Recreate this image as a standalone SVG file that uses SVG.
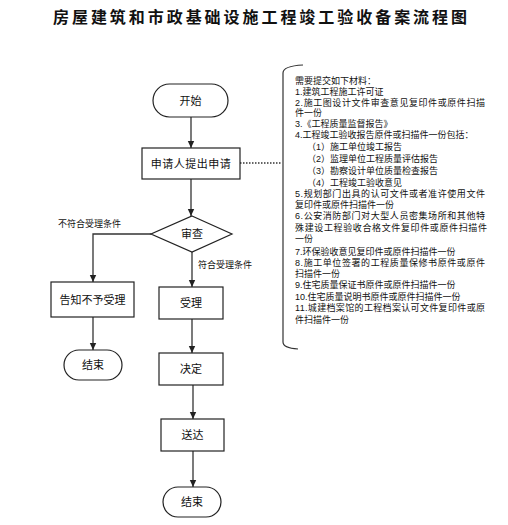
<svg xmlns="http://www.w3.org/2000/svg" width="508" height="525" viewBox="0 0 508 525">
<defs>
<marker id="arr" markerWidth="8" markerHeight="8" refX="7" refY="4" orient="auto" markerUnits="userSpaceOnUse">
<path d="M0,0.8 L7,4 L0,7.2 Z" fill="#222"/>
</marker>
<style>
.shape{fill:#fff;stroke:#222;stroke-width:1.2}
.conn{fill:none;stroke:#333;stroke-width:1.3}
.nt{font-family:"Liberation Sans","Noto Sans CJK SC",sans-serif;font-size:11px;fill:#111;text-anchor:middle;dominant-baseline:central}
.lbl{font-family:"Liberation Sans","Noto Sans CJK SC",sans-serif;font-size:9px;fill:#111}
.it{font-family:"Liberation Sans","Noto Sans CJK SC",sans-serif;font-size:9px;fill:#111;dominant-baseline:central}
</style>
</defs>
<rect width="508" height="525" fill="#fff"/>
<text x="260" y="16" font-family="'Noto Sans CJK SC',sans-serif" font-size="16" font-weight="bold" fill="#111" text-anchor="middle" dominant-baseline="central" textLength="414" lengthAdjust="spacing">房屋建筑和市政基础设施工程竣工验收备案流程图</text>

<g id="connectors">
<line class="conn" x1="191" y1="117" x2="191" y2="148" marker-end="url(#arr)"/>
<line class="conn" x1="191" y1="179" x2="191" y2="216" marker-end="url(#arr)"/>
<polyline class="conn" points="151,234 93,234 93,282" marker-end="url(#arr)"/>
<line class="conn" x1="192" y1="252" x2="192" y2="287" marker-end="url(#arr)"/>
<line class="conn" x1="93" y1="317" x2="93" y2="350" marker-end="url(#arr)"/>
<line class="conn" x1="192" y1="319" x2="192" y2="353" marker-end="url(#arr)"/>
<line class="conn" x1="193" y1="385" x2="193" y2="419" marker-end="url(#arr)"/>
<line class="conn" x1="193" y1="451" x2="193" y2="487" marker-end="url(#arr)"/>
<line x1="240" y1="163" x2="281" y2="163" stroke="#333" stroke-width="1.3" stroke-dasharray="1.5,1.5"/>
<text class="lbl" x="58" y="227">不符合受理条件</text>
<text class="lbl" x="198" y="268">符合受理条件</text>
</g>

<g id="start">
<rect class="shape" x="153" y="84" width="75" height="33" rx="16.5"/>
<text class="nt" x="190.5" y="100.5">开始</text>
</g>
<g id="apply">
<rect class="shape" x="142" y="148" width="98" height="31"/>
<text class="nt" x="191" y="163.5" letter-spacing="0.5">申请人提出申请</text>
</g>
<g id="review">
<polygon class="shape" points="192,216 232,234 192,252 151,234"/>
<text class="nt" x="192" y="234">审查</text>
</g>
<g id="reject">
<rect class="shape" x="51" y="282" width="83" height="35"/>
<text class="nt" x="92.5" y="299.5">告知不予受理</text>
</g>
<g id="end1">
<rect class="shape" x="64" y="350" width="58" height="30" rx="15"/>
<text class="nt" x="93" y="365">结束</text>
</g>
<g id="accept">
<rect class="shape" x="159" y="287" width="64" height="32"/>
<text class="nt" x="191" y="303">受理</text>
</g>
<g id="decide">
<rect class="shape" x="159" y="353" width="64" height="32"/>
<text class="nt" x="191" y="369">决定</text>
</g>
<g id="deliver">
<rect class="shape" x="161" y="419" width="63" height="32"/>
<text class="nt" x="192.5" y="435">送达</text>
</g>
<g id="end2">
<rect class="shape" x="163" y="487" width="58" height="30" rx="15"/>
<text class="nt" x="192" y="502">结束</text>
</g>

<g id="materials">
<path d="M303,65 Q283,66 283,73 L283,342 Q283,348 298,349" fill="none" stroke="#333" stroke-width="1.2"/>
<text class="it" x="295" y="81">需要提交如下材料：</text>
<text class="it" x="295" y="92">1.建筑工程施工许可证</text>
<text class="it" x="295" y="103" textLength="190" lengthAdjust="spacing">2.施工图设计文件审查意见复印件或原件扫描</text>
<text class="it" x="295" y="113">件一份</text>
<text class="it" x="295" y="124">3.《工程质量监督报告》</text>
<text class="it" x="295" y="135">4.工程竣工验收报告原件或扫描件一份包括：</text>
<text class="it" x="307" y="147">（1）施工单位竣工报告</text>
<text class="it" x="307" y="159">（2）监理单位工程质量评估报告</text>
<text class="it" x="307" y="171">（3）勘察设计单位质量检查报告</text>
<text class="it" x="307" y="183">（4）工程竣工验收意见</text>
<text class="it" x="295" y="194" textLength="190" lengthAdjust="spacing">5.规划部门出具的认可文件或者准许使用文件</text>
<text class="it" x="295" y="205">复印件或原件扫描件一份</text>
<text class="it" x="295" y="216" textLength="190" lengthAdjust="spacing">6.公安消防部门对大型人员密集场所和其他特</text>
<text class="it" x="295" y="228" textLength="192" lengthAdjust="spacing">殊建设工程验收合格文件复印件或原件扫描件</text>
<text class="it" x="295" y="239">一份</text>
<text class="it" x="295" y="252">7.环保验收意见复印件或原件扫描件一份</text>
<text class="it" x="295" y="263" textLength="190" lengthAdjust="spacing">8.施工单位签署的工程质量保修书原件或原件</text>
<text class="it" x="295" y="274">扫描件一份</text>
<text class="it" x="295" y="285">9.住宅质量保证书原件或原件扫描件一份</text>
<text class="it" x="295" y="297">10.住宅质量说明书原件或原件扫描件一份</text>
<text class="it" x="295" y="308" textLength="190" lengthAdjust="spacing">11.城建档案馆的工程档案认可文件复印件或原</text>
<text class="it" x="295" y="320">件扫描件一份</text>
</g>
</svg>
